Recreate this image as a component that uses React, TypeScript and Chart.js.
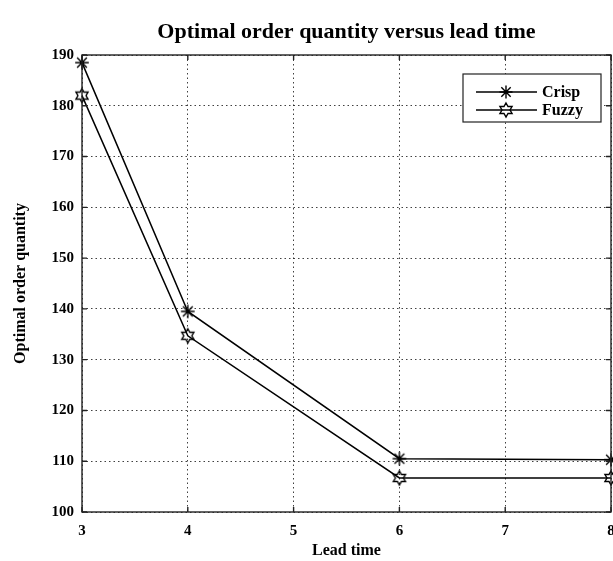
import React, { useEffect, useRef } from 'react';
import { Chart, registerables } from 'chart.js';
Chart.register(...registerables);

const chartTitle = 'Optimal order quantity versus lead time';
const xTitle = 'Lead time';
const yTitle = 'Optimal order quantity';
const leadTimes = [3, 4, 6, 8];
const crispQty = [188.5, 139.5, 110.5, 110.3];
const fuzzyQty = [182.0, 134.7, 106.7, 106.7];
const xTicks = [3, 4, 5, 6, 7, 8];
const yTicks = [100, 110, 120, 130, 140, 150, 160, 170, 180, 190];
const seriesLabels = ['Crisp', 'Fuzzy'];

const FONT = "'Liberation Serif', 'DejaVu Serif', serif";
const INK = '#000';

function drawAsterisk(ctx: CanvasRenderingContext2D, cx: number, cy: number, r: number) {
  const d = r * 0.72;
  ctx.beginPath();
  ctx.moveTo(cx - r, cy); ctx.lineTo(cx + r, cy);
  ctx.moveTo(cx, cy - r); ctx.lineTo(cx, cy + r);
  ctx.moveTo(cx - d, cy - d); ctx.lineTo(cx + d, cy + d);
  ctx.moveTo(cx - d, cy + d); ctx.lineTo(cx + d, cy - d);
  ctx.stroke();
}

function drawHexagram(ctx: CanvasRenderingContext2D, cx: number, cy: number, r: number) {
  const ri = r / Math.sqrt(3);
  ctx.beginPath();
  for (let k = 0; k < 12; k++) {
    const ang = -Math.PI / 2 + (k * Math.PI) / 6;
    const rad = k % 2 === 0 ? r : ri;
    const px = cx + rad * Math.cos(ang);
    const py = cy + rad * Math.sin(ang);
    if (k === 0) ctx.moveTo(px, py); else ctx.lineTo(px, py);
  }
  ctx.closePath();
  ctx.stroke();
}

function makeMarker(kind: 'star' | 'hex', r: number): HTMLCanvasElement {
  const size = Math.ceil(2 * r + 4);
  const c = document.createElement('canvas');
  c.width = size; c.height = size;
  const ctx = c.getContext('2d')!;
  ctx.strokeStyle = INK;
  ctx.lineWidth = 1.4;
  if (kind === 'star') drawAsterisk(ctx, size / 2, size / 2, r);
  else drawHexagram(ctx, size / 2, size / 2, r);
  return c;
}

const framePlugin = {
  id: 'matlabFrame',
  afterDatasetsDraw(chart: any) {
    const { ctx, chartArea: a, scales } = chart;
    ctx.save();
    ctx.strokeStyle = '#222';
    ctx.lineWidth = 1.4;
    ctx.strokeRect(a.left, a.top, a.right - a.left, a.bottom - a.top);
    const tl = 5;
    ctx.beginPath();
    xTicks.forEach((v) => {
      const x = scales.x.getPixelForValue(v);
      ctx.moveTo(x, a.bottom); ctx.lineTo(x, a.bottom - tl);
      ctx.moveTo(x, a.top); ctx.lineTo(x, a.top + tl);
    });
    yTicks.forEach((v) => {
      const y = scales.y.getPixelForValue(v);
      ctx.moveTo(a.left, y); ctx.lineTo(a.left + tl, y);
      ctx.moveTo(a.right, y); ctx.lineTo(a.right - tl, y);
    });
    ctx.stroke();
    ctx.restore();
  },
};

const legendPlugin = {
  id: 'boxLegend',
  afterDraw(chart: any) {
    const { ctx, chartArea: a } = chart;
    const bx = a.right - 148, by = a.top + 19, bw = 138, bh = 48;
    ctx.save();
    ctx.fillStyle = '#fff';
    ctx.fillRect(bx, by, bw, bh);
    ctx.strokeStyle = '#222';
    ctx.lineWidth = 1.2;
    ctx.strokeRect(bx, by, bw, bh);
    const rows = [by + 18, by + 36];
    chart.data.datasets.forEach((ds: any, i: number) => {
      const y = rows[i];
      ctx.strokeStyle = INK;
      ctx.lineWidth = 1.5;
      ctx.beginPath();
      ctx.moveTo(bx + 13, y); ctx.lineTo(bx + 74, y);
      ctx.stroke();
      ctx.lineWidth = 1.4;
      if (i === 0) drawAsterisk(ctx, bx + 43, y, 6.5);
      else drawHexagram(ctx, bx + 43, y, 7);
      ctx.fillStyle = INK;
      ctx.font = `bold 16px ${FONT}`;
      ctx.textBaseline = 'middle';
      ctx.textAlign = 'left';
      ctx.fillText(ds.label, bx + 79, y + 1);
    });
    ctx.restore();
  },
};

export default function App() {
  const ref = useRef<HTMLCanvasElement | null>(null);
  useEffect(() => {
    if (!ref.current) return;
    const starImg = makeMarker('star', 6.8);
    const hexImg = makeMarker('hex', 7);
    const chart = new Chart(ref.current, {
      type: 'line',
      data: {
        datasets: [
          {
            label: seriesLabels[0],
            data: leadTimes.map((x, i) => ({ x, y: crispQty[i] })),
            borderColor: INK,
            borderWidth: 1.5,
            pointStyle: starImg as any,
            pointRadius: 7,
            clip: false as any,
            tension: 0,
          },
          {
            label: seriesLabels[1],
            data: leadTimes.map((x, i) => ({ x, y: fuzzyQty[i] })),
            borderColor: INK,
            borderWidth: 1.5,
            pointStyle: hexImg as any,
            pointRadius: 7,
            clip: false as any,
            tension: 0,
          },
        ],
      },
      options: {
        responsive: false,
        animation: false,
        layout: { autoPadding: false, padding: { left: 0, right: 2, top: 0, bottom: 0 } },
        plugins: {
          legend: { display: false },
          tooltip: { enabled: false },
          title: {
            display: true,
            fullSize: false,
            text: chartTitle,
            color: INK,
            font: { family: FONT, size: 22, weight: 'bold' },
            padding: { top: 19, bottom: 9.6 },
          },
        },
        scales: {
          x: {
            type: 'linear',
            min: 3,
            max: 8,
            afterBuildTicks: (s: any) => { s.ticks = xTicks.map((v) => ({ value: v })); },
            afterFit: (s: any) => {
              s.height = 49; s.paddingLeft = 0; s.paddingRight = 0;
            },
            grid: { color: 'rgba(0,0,0,0.75)', lineWidth: 1, drawTicks: false },
            border: { display: false, dash: [1.5, 3] },
            ticks: { color: INK, padding: 10, maxRotation: 0, font: { family: FONT, size: 15, weight: 'bold' } },
            title: { display: true, text: xTitle, color: INK, padding: { top: 0, bottom: 1 }, font: { family: FONT, size: 16, weight: 'bold' } },
          },
          y: {
            type: 'linear',
            min: 100,
            max: 190,
            afterBuildTicks: (s: any) => { s.ticks = yTicks.map((v) => ({ value: v })); },
            afterFit: (s: any) => {
              s.width = 82; s.paddingTop = 0; s.paddingBottom = 0;
            },
            grid: { color: 'rgba(0,0,0,0.75)', lineWidth: 1, drawTicks: false },
            border: { display: false, dash: [1.5, 3] },
            ticks: { color: INK, padding: 8, font: { family: FONT, size: 15, weight: 'bold' } },
            title: { display: true, text: yTitle, color: INK, padding: { top: 11, bottom: 0 }, font: { family: FONT, size: 16, weight: 'bold' } },
          },
        },
      },
      plugins: [framePlugin, legendPlugin],
    });
    return () => chart.destroy();
  }, []);
  return (
    <div style={{ position: 'fixed', left: 0, top: 0, width: 613, height: 561, background: '#fff' }}>
      <canvas ref={ref} width={613} height={561} style={{ display: 'block' }} />
    </div>
  );
}
